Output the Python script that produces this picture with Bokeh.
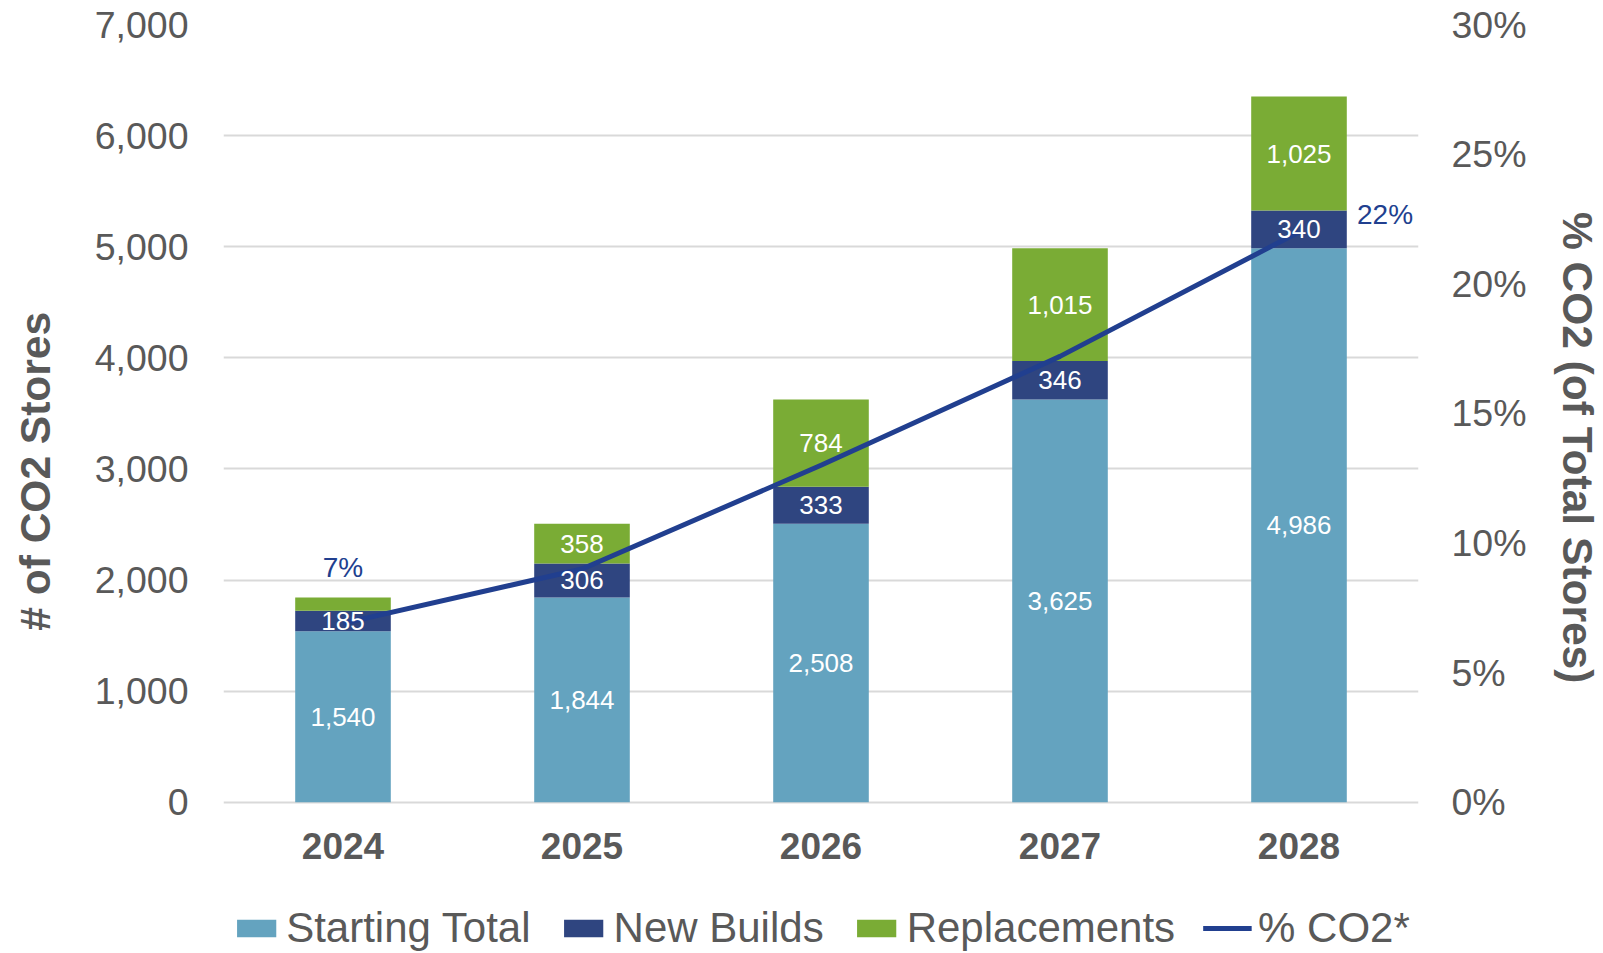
from bokeh.plotting import figure
from bokeh.models import (ColumnDataSource, Range1d, LinearAxis, NumeralTickFormatter,
                          Legend, LegendItem, FixedTicker)
from bokeh.core.properties import value
from bokeh.embed import file_html
from bokeh.resources import INLINE

# ---- data ----
years = ["2024", "2025", "2026", "2027", "2028"]
starting_total = [1540, 1844, 2508, 3625, 4986]
new_builds = [185, 306, 333, 346, 340]
replacements = [119, 358, 784, 1015, 1025]
pct_co2 = [0.069, 0.090, 0.130, 0.172, 0.220]
left_ticks = [0, 1000, 2000, 3000, 4000, 5000, 6000, 7000]
right_ticks = [0.0, 0.05, 0.10, 0.15, 0.20, 0.25, 0.30]
series_names = ["Starting Total", "New Builds", "Replacements"]
line_name = "% CO2*"
left_title = "# of CO2 Stores"
right_title = "% CO2 (of Total Stores)"
min_label_value = 150  # segments smaller than this carry no label in the original

LEFT_MAX = 7000
RIGHT_MAX = 0.30
# the frame runs down to the bottom of the canvas, so that the category labels and
# the legend can sit inside it; this is the share of the axis span kept below zero
BELOW_FRAC = 151.0 / 777.0

C_START = "#64A3BF"
C_NEW = "#2F4580"
C_REP = "#7AAC35"
C_LINE = "#213F8F"
GREY = "#595959"
FONT = "Liberation Sans"
NB = "\u00a0"

src = ColumnDataSource(dict(year=years, s=starting_total, n=new_builds, r=replacements))

p = figure(x_range=years, y_range=Range1d(-LEFT_MAX * BELOW_FRAC, LEFT_MAX),
           width=1603, height=953, output_backend="svg", toolbar_location=None,
           min_border_left=223, min_border_right=183, min_border_top=24, min_border_bottom=0)
p.extra_y_ranges = {"pct": Range1d(-RIGHT_MAX * BELOW_FRAC, RIGHT_MAX)}

bars = p.vbar_stack(["s", "n", "r"], x="year", width=0.4, color=[C_START, C_NEW, C_REP],
                    line_color=None, source=src)

line = p.line(years, pct_co2, y_range_name="pct", line_width=5, line_color=C_LINE,
              line_join="round")

# segment labels
lx, ly, lt = [], [], []
for i, y in enumerate(years):
    base = 0
    for v in (starting_total[i], new_builds[i], replacements[i]):
        if v >= min_label_value:
            lx.append(y)
            ly.append(base + v / 2)
            lt.append(f"{v:,}")
        base += v
p.text(x=lx, y=ly, text=lt, text_align="center", text_baseline="middle",
       text_font=value(FONT), text_font_size="26px", text_color="white")

# percentage labels (first and last)
p.text(x=[years[0]], y=[pct_co2[0]], text=[f"{round(pct_co2[0]*100)}%"], y_range_name="pct",
       y_offset=-56, text_align="center", text_baseline="middle",
       text_font=value(FONT), text_font_size="28px", text_color=C_LINE)
p.text(x=[years[-1]], y=[pct_co2[-1]], text=[f"{round(pct_co2[-1]*100)}%"], y_range_name="pct",
       x_offset=58, y_offset=-17, text_align="left", text_baseline="middle",
       text_font=value(FONT), text_font_size="28px", text_color=C_LINE)

# axes
p.outline_line_color = None
p.xgrid.grid_line_color = None
p.ygrid.grid_line_color = "#D9D9D9"
p.ygrid.grid_line_width = 2

ya = p.yaxis[0]
ya.ticker = FixedTicker(ticks=left_ticks)
ya.formatter = NumeralTickFormatter(format="0,0")
ya.axis_label = NB * 3 + left_title

ra = LinearAxis(y_range_name="pct", ticker=FixedTicker(ticks=right_ticks),
                formatter=NumeralTickFormatter(format="0%"),
                axis_label=right_title + NB * 7)
p.add_layout(ra, "right")

for ax in (ya, ra):
    ax.axis_line_color = None
    ax.major_tick_line_color = None
    ax.minor_tick_line_color = None
    ax.major_tick_out = 0
    ax.major_tick_in = 0
    ax.minor_tick_out = 0
    ax.major_label_text_font = FONT
    ax.major_label_text_font_size = "37.5px"
    ax.major_label_text_color = GREY
    ax.axis_label_text_font = FONT
    ax.axis_label_text_font_size = "42.5px"
    ax.axis_label_text_font_style = "bold"
    ax.axis_label_text_color = GREY
ya.major_label_standoff = 35
ya.axis_label_standoff = 33
ra.major_label_standoff = 33
ra.axis_label_standoff = 24

xa = p.xaxis[0]
xa.fixed_location = 0
xa.axis_line_color = None
xa.major_tick_line_color = None
xa.minor_tick_line_color = None
xa.major_tick_out = 0
xa.major_tick_in = 0
xa.minor_tick_out = 0
xa.major_label_text_font = FONT
xa.major_label_text_font_size = "37px"
xa.major_label_text_font_style = "bold"
xa.major_label_text_color = GREY
xa.major_label_standoff = 31

legend = Legend(items=[LegendItem(label=series_names[0], renderers=[bars[0]]),
                       LegendItem(label=series_names[1], renderers=[bars[1]]),
                       LegendItem(label=series_names[2], renderers=[bars[2]]),
                       LegendItem(label=line_name, renderers=[line])],
                orientation="horizontal", location="bottom_center")
legend.label_text_font = FONT
legend.label_text_font_size = "42px"
legend.label_text_color = GREY
legend.glyph_width = 49
legend.glyph_height = 22
legend.label_standoff = 6
legend.spacing = 28
legend.padding = 0
legend.margin = 1
legend.border_line_color = None
legend.background_fill_alpha = 0
p.add_layout(legend, "center")

open("out.html", "w").write(file_html(p, INLINE))
